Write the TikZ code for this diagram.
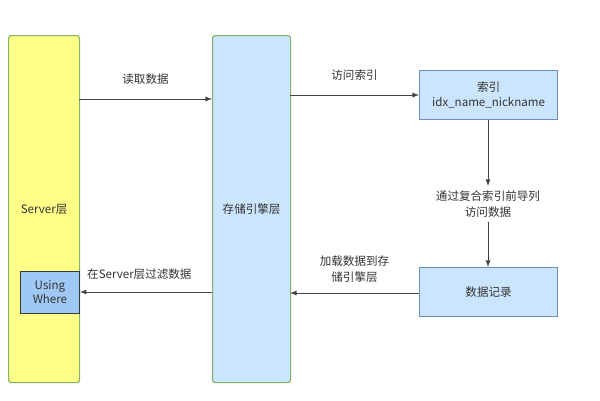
\documentclass[tikz,border=0pt]{standalone}
\usepackage{fontspec}
\setmainfont{Liberation Sans}
\newfontfamily\cjk{Noto Sans CJK SC}
\definecolor{layeredge}{HTML}{82B366}
\definecolor{serverfill}{HTML}{FFFF88}
\definecolor{enginefill}{HTML}{CCE5FF}
\definecolor{boxedge}{HTML}{6C8EBF}
\definecolor{wherefill}{HTML}{9FC8F5}
\definecolor{wheredge}{HTML}{36393D}
\definecolor{linecol}{HTML}{444444}
\definecolor{textcol}{HTML}{333333}
\tikzset{
  layer/.style={draw=layeredge,rounded corners=2bp,line width=0.9bp,anchor=north west,inner sep=0pt},
  stepbox/.style={draw=boxedge,fill=enginefill,line width=0.9bp,anchor=north west,inner sep=0pt},
  flow/.style={->,>=latex,draw=linecol,line width=0.7bp},
  lbl/.style={text=textcol,align=center,font=\cjk\fontsize{8.7}{12}\selectfont}
}
\begin{document}
\begin{tikzpicture}[x=0.75bp,y=-0.75bp,text=textcol,font=\cjk\fontsize{8.7}{12}\selectfont]
  \useasboundingbox[fill=white] (0,0) rectangle (600,401);
  %%
  \node (Server) at (8,35) [layer,fill=serverfill,minimum width=53.25bp,minimum height=260.25bp] {};
  \node at (Server.center) [lbl] {Server层};
  \node (Where) at (20,271) [draw=wheredge,fill=wherefill,line width=0.7bp,anchor=north west,inner sep=0pt,minimum width=44.25bp,minimum height=31.5bp,lbl] {Using\\[-1.5bp]Where};
  \node (Engine) at (212,35) [layer,fill=enginefill,minimum width=58.5bp,minimum height=260.25bp] {};
  \node at (Engine.center) [lbl] {存储引擎层};
  \node (Index) at (419,70) [stepbox,minimum width=103.5bp,minimum height=36.75bp,lbl] {索引\\[-1bp]idx\_name\_nickname};
  \node (Record) at (419,267) [stepbox,minimum width=103.5bp,minimum height=36.75bp,lbl] {数据记录};
  \node (Via) at (488,204) [lbl] {通过复合索引前导列\\访问数据};
  %
  \coordinate (ReadA) at (79,99);
  \coordinate (ReadB) at (212,99);
  \draw [flow] (ReadA) -- (ReadB) node [midway,above=7bp,lbl] {读取数据};
  \coordinate (VisitA) at (290,95);
  \draw [flow] (VisitA) -- (VisitA -| Index.west) node [midway,above=7bp,lbl] {访问索引};
  \draw [flow] (Index.south -| Via) -- (Via.north);
  \draw [flow] (Via.south) -- (Record.north -| Via);
  \coordinate (LoadB) at (290,293);
  \draw [flow] (LoadB -| Record.west) -- (LoadB) node [midway,above=4bp,lbl] {加载数据到存\\储引擎层};
  \coordinate (FilterA) at (212,292);
  \draw [flow] (FilterA) -- (FilterA -| Where.east) node [pos=0.55,above=6bp,lbl] {在Server层过滤数据};
  %
\end{tikzpicture}
\end{document}
